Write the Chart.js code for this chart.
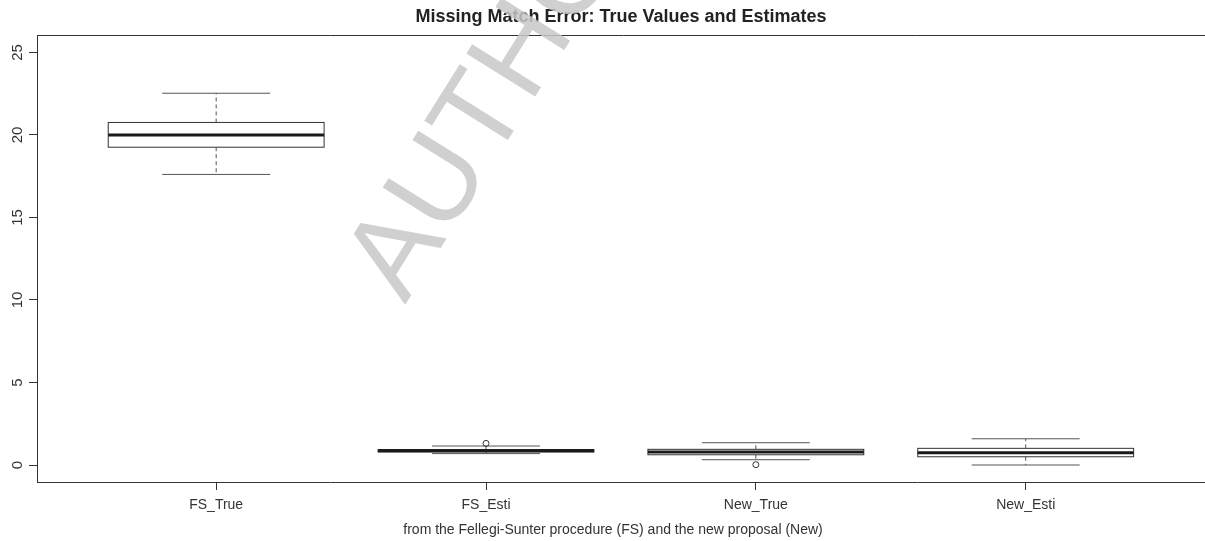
<!DOCTYPE html>
<html>
<head>
<meta charset="utf-8">
<script src="https://cdn.jsdelivr.net/npm/chart.js@4"></script>
<style>
  html, body { margin: 0; padding: 0; background: #fff; overflow: hidden; }
  #wrap { width: 1205px; height: 541px; overflow: hidden; }
</style>
</head>
<body>
<div id="wrap"><canvas id="myChart" width="1215" height="541"></canvas></div>
<script>
// values
const categories = ['FS_True', 'FS_Esti', 'New_True', 'New_Esti'];
const whiskerLow = [17.61, 0.69, 0.32, 0.00];
const q1 = [19.26, 0.79, 0.62, 0.50];
const median = [20.00, 0.87, 0.79, 0.75];
const q3 = [20.76, 0.94, 0.95, 1.01];
const whiskerHigh = [22.53, 1.15, 1.35, 1.59];
const outliers = [[], [1.31], [0.02], []];
const yTicks = [0, 5, 10, 15, 20, 25];

const titleText = 'Missing Match Error: True Values and Estimates';
const xLabel = 'from the Fellegi-Sunter procedure (FS) and the new proposal (New)';

const FONT = '"Liberation Sans", Arial, sans-serif';
const INK = '#333';

const outlierPoints = [];
outliers.forEach((list, i) => list.forEach(v => outlierPoints.push({ x: i + 1, y: v })));

// draws boxes, whiskers, frame and text through the chart's scales
const boxplotPlugin = {
    id: 'boxplot',
    beforeDatasetsDraw(chart) {
        const { ctx, chartArea: a, scales: { x, y } } = chart;
        ctx.save();
        ctx.strokeStyle = INK;
        ctx.lineWidth = 1;
        categories.forEach((c, i) => {
            const cx = x.getPixelForValue(i + 1);
            const bl = x.getPixelForValue(i + 1 - 0.4), br = x.getPixelForValue(i + 1 + 0.4);
            const sl = x.getPixelForValue(i + 1 - 0.2), sr = x.getPixelForValue(i + 1 + 0.2);
            const yq1 = y.getPixelForValue(q1[i]), yq3 = y.getPixelForValue(q3[i]);
            const ylo = y.getPixelForValue(whiskerLow[i]), yhi = y.getPixelForValue(whiskerHigh[i]);
            const ymed = y.getPixelForValue(median[i]);

            // whiskers
            ctx.strokeStyle = '#555';
            ctx.setLineDash([4, 3]);
            ctx.beginPath();
            ctx.moveTo(cx, yq3); ctx.lineTo(cx, yhi);
            ctx.moveTo(cx, yq1); ctx.lineTo(cx, ylo);
            ctx.stroke();
            ctx.setLineDash([]);
            ctx.beginPath();
            ctx.moveTo(sl, yhi); ctx.lineTo(sr, yhi);
            ctx.moveTo(sl, ylo); ctx.lineTo(sr, ylo);
            ctx.stroke();

            // box
            ctx.strokeStyle = INK;
            ctx.fillStyle = '#fff';
            ctx.fillRect(bl, yq3, br - bl, yq1 - yq3);
            ctx.strokeRect(bl, yq3, br - bl, yq1 - yq3);

            // median
            ctx.lineWidth = 3;
            ctx.strokeStyle = '#1a1a1a';
            ctx.beginPath();
            ctx.moveTo(bl, ymed); ctx.lineTo(br, ymed);
            ctx.stroke();
            ctx.lineWidth = 1;
            ctx.strokeStyle = INK;
        });

        // top edge of the frame (left and bottom come from the axes)
        ctx.beginPath();
        ctx.moveTo(a.left, a.top + 0.5);
        ctx.lineTo(a.right, a.top + 0.5);
        ctx.stroke();

        // y tick labels, rotated like R
        ctx.fillStyle = INK;
        ctx.font = '15px ' + FONT;
        ctx.textAlign = 'center';
        ctx.textBaseline = 'middle';
        yTicks.forEach(v => {
            ctx.save();
            ctx.translate(17.5, y.getPixelForValue(v));
            ctx.rotate(-Math.PI / 2);
            ctx.fillText(String(v), 0, 0);
            ctx.restore();
        });

        // title and x label
        ctx.fillStyle = '#222';
        ctx.font = 'bold 18px ' + FONT;
        ctx.fillText(titleText, 621, 17);
        ctx.fillStyle = INK;
        ctx.font = '14px ' + FONT;
        ctx.fillText(xLabel, 613, 530);
        ctx.restore();
    },
    afterDraw(chart) {
        // faint watermark lettering over the plot
        const { ctx } = chart;
        ctx.save();
        ctx.fillStyle = 'rgba(200,200,200,0.85)';
        ctx.font = '118px ' + FONT;
        ctx.textAlign = 'left';
        ctx.textBaseline = 'alphabetic';
        ctx.translate(405, 305);
        ctx.rotate(-58 * Math.PI / 180);
        ctx.fillText('AUTHOR', 0, 0);
        ctx.restore();
    }
};

const ctx = document.getElementById('myChart').getContext('2d');
new Chart(ctx, {
    type: 'scatter',
    data: {
        datasets: [{
            label: 'outliers',
            data: outlierPoints,
            pointStyle: 'circle',
            pointRadius: 3,
            borderColor: INK,
            backgroundColor: 'rgba(255,255,255,0)',
            borderWidth: 1
        }]
    },
    options: {
        responsive: false,
        animation: false,
        layout: { padding: { top: 35, right: 0, left: 0, bottom: 0 } },
        plugins: { legend: { display: false }, tooltip: { enabled: false }, title: { display: false } },
        scales: {
            x: {
                type: 'linear',
                min: 0.336,
                max: 4.683,
                afterBuildTicks: axis => { axis.ticks = categories.map((c, i) => ({ value: i + 1 })); },
                afterFit: axis => { axis.height = 59; },
                grid: { drawOnChartArea: false, tickLength: 8, color: INK },
                border: { color: INK },
                ticks: {
                    callback: v => categories[v - 1],
                    font: { family: FONT, size: 14 },
                    color: INK,
                    padding: 7,
                    maxRotation: 0,
                    autoSkip: false
                }
            },
            y: {
                min: -1.03,
                max: 26.06,
                afterBuildTicks: axis => { axis.ticks = yTicks.map(v => ({ value: v })); },
                afterFit: axis => { axis.width = 37; },
                grid: { drawOnChartArea: false, tickLength: 8, color: INK },
                border: { color: INK },
                ticks: { display: false }
            }
        }
    },
    plugins: [boxplotPlugin]
});
</script>
</body>
</html>
